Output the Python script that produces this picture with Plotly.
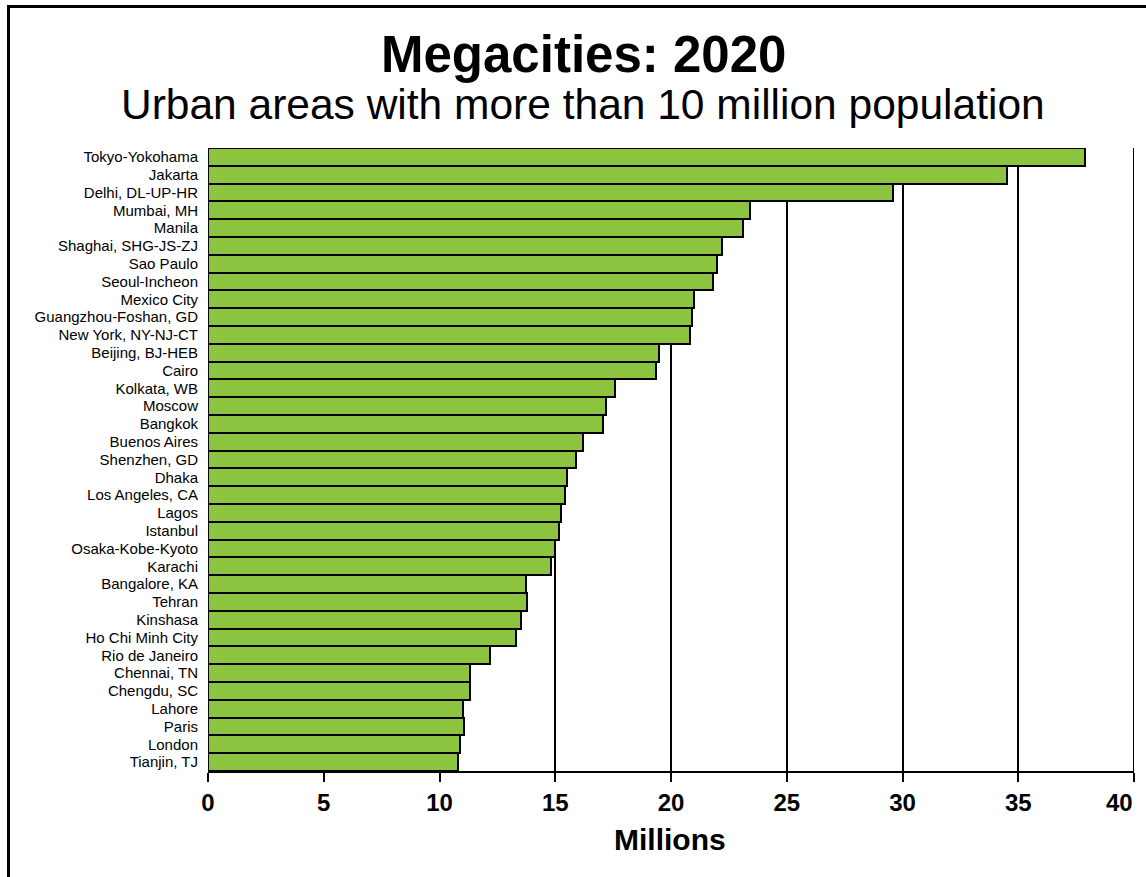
import plotly.graph_objects as go

CITIES = [
    "Tokyo-Yokohama", "Jakarta", "Delhi, DL-UP-HR", "Mumbai, MH", "Manila",
    "Shaghai, SHG-JS-ZJ", "Sao Paulo", "Seoul-Incheon", "Mexico City",
    "Guangzhou-Foshan, GD", "New York, NY-NJ-CT", "Beijing, BJ-HEB", "Cairo",
    "Kolkata, WB", "Moscow", "Bangkok", "Buenos Aires", "Shenzhen, GD", "Dhaka",
    "Los Angeles, CA", "Lagos", "Istanbul", "Osaka-Kobe-Kyoto", "Karachi",
    "Bangalore, KA", "Tehran", "Kinshasa", "Ho Chi Minh City", "Rio de Janeiro",
    "Chennai, TN", "Chengdu, SC", "Lahore", "Paris", "London", "Tianjin, TJ",
]
POPULATION = [
    37.9, 34.5, 29.6, 23.4, 23.1,
    22.2, 22.0, 21.8, 21.0,
    20.9, 20.8, 19.5, 19.35,
    17.6, 17.2, 17.05, 16.2, 15.9, 15.5,
    15.4, 15.25, 15.15, 15.0, 14.8,
    13.75, 13.8, 13.5, 13.3, 12.2,
    11.3, 11.3, 11.0, 11.05, 10.9, 10.8,
]
X_TICKS = [0, 5, 10, 15, 20, 25, 30, 35, 40]

FONT = "Arial, Liberation Sans, sans-serif"
GREEN = "#8cc43f"

W, H = 1146, 877
L, R, T, B = 208, 12, 148, 106
PW, PH = W - L - R, H - T - B


def px_x(px):
    return (px - L) / PW


def px_y(py):
    return (H - B - py) / PH


# the last label is right-aligned to its tick (added below as an annotation)
tick_text = [f"<b>{v}</b>" for v in X_TICKS[:-1]] + [""]

fig = go.Figure(
    go.Bar(
        x=POPULATION,
        y=CITIES,
        orientation="h",
        marker={"color": GREEN, "line": {"color": "black", "width": 2}},
    )
)

fig.update_layout(
    width=W,
    height=H,
    margin={"l": L, "r": R, "t": T, "b": B},
    plot_bgcolor="white",
    paper_bgcolor="white",
    bargap=0,
    showlegend=False,
    font={"family": FONT, "color": "black"},
)

fig.update_xaxes(
    range=[0, 40],
    tickvals=X_TICKS,
    ticktext=tick_text,
    tickfont={"size": 24},
    automargin=False,
    showgrid=True,
    gridcolor="black",
    gridwidth=2,
    zeroline=False,
    showline=True,
    linecolor="black",
    linewidth=2,
    ticks="outside",
    ticklen=9,
    tickwidth=2,
    tickcolor="black",
)
fig.update_yaxes(
    range=[len(CITIES) - 0.5, -0.5],
    tickmode="array",
    tickvals=CITIES,
    automargin=False,
    showgrid=False,
    zeroline=False,
    showline=False,
    tickfont={"size": 15},
    ticklabelstandoff=9,
)

# gridline on the right edge of the axis (plotly leaves it out at the range end)
fig.add_shape(type="line", xref="x", yref="paper", layer="below",
              x0=X_TICKS[-1], x1=X_TICKS[-1], y0=0, y1=1,
              line={"color": "black", "width": 2})

fig.add_annotation(
    text=f"<b>{X_TICKS[-1]}</b>",
    x=X_TICKS[-1],
    xref="x",
    y=px_y(802),
    yref="paper",
    xanchor="right",
    yanchor="middle",
    showarrow=False,
    borderpad=0,
    font={"size": 24, "color": "black"},
)

annotations = [
    ("<b>Megacities: 2020</b>", 583, 55, 51),
    ("Urban areas with more than 10 million population", 583, 104, 42.5),
    ("<b>Millions</b>", 670, 839, 30),
]
for text, ax, ay, size in annotations:
    fig.add_annotation(
        text=text,
        x=px_x(ax),
        y=px_y(ay),
        xref="paper",
        yref="paper",
        showarrow=False,
        xanchor="center",
        yanchor="middle",
        borderpad=0,
        font={"size": size, "color": "black"},
    )

# frame around the picture (left and top edges visible)
fig.add_shape(type="line", xref="paper", yref="paper",
              x0=px_x(8.5), x1=px_x(8.5), y0=px_y(5), y1=px_y(H + 5),
              line={"color": "black", "width": 3})
fig.add_shape(type="line", xref="paper", yref="paper",
              x0=px_x(7), x1=px_x(W + 5), y0=px_y(6.5), y1=px_y(6.5),
              line={"color": "black", "width": 3})

fig.write_html(
    "out.html",
    config={"displayModeBar": False},
    post_script="document.body.style.margin='0';",
)
